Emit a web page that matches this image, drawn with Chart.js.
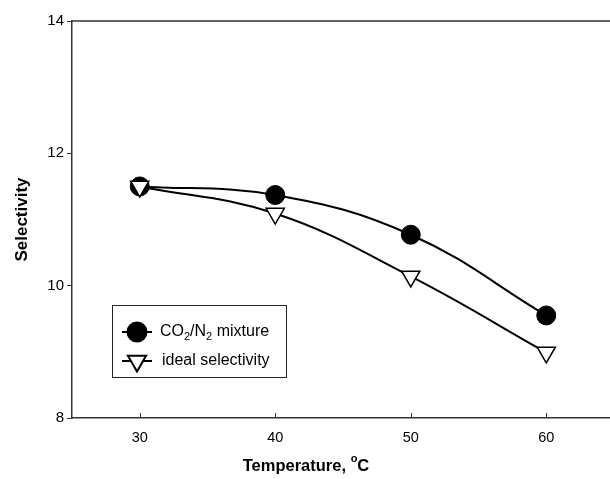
<!DOCTYPE html>
<html>
<head>
<meta charset="utf-8">
<script src="https://cdn.jsdelivr.net/npm/chart.js@4/dist/chart.umd.min.js"></script>
<style>
  html, body { margin: 0; padding: 0; background: #fff; overflow: hidden; }
  #wrap { width: 626px; height: 479px; }
</style>
</head>
<body>
<div id="wrap"><canvas id="selChart" width="626" height="479"></canvas></div>
<script>
// --- data ---
const temperatures = [30, 40, 50, 60];
const mixtureSel = [11.5, 11.37, 10.77, 9.55];
const idealSel = [11.5, 11.09, 10.14, 8.99];
const xTicks = [30, 40, 50, 60];
const yTicks = [8, 10, 12, 14];

const FONT = "'Liberation Sans', Arial, sans-serif";
const INK = '#000';

function pts(ys) {
  return temperatures.map((t, i) => ({ x: t, y: ys[i] }));
}

// top frame line, inward x ticks and the x title (with superscript o)
const framePlugin = {
  id: 'frame',
  afterDraw(chart) {
    const { ctx, chartArea } = chart;
    const xs = chart.scales.x;
    ctx.save();
    ctx.strokeStyle = '#333';
    ctx.lineWidth = 1.5;
    ctx.beginPath();
    ctx.moveTo(chartArea.left, chartArea.top);
    ctx.lineTo(chartArea.right + 2, chartArea.top);
    ctx.stroke();
    ctx.lineWidth = 1;
    ctx.beginPath();
    xTicks.forEach(v => {
      const px = Math.round(xs.getPixelForValue(v)) + 0.5;
      ctx.moveTo(px, chartArea.bottom);
      ctx.lineTo(px, chartArea.bottom - 5);
    });
    ctx.stroke();

    // x title
    const big = 'bold 16.5px ' + FONT, small = 'bold 11px ' + FONT;
    const parts = [['Temperature, ', big, 0], ['o', small, -7], ['C', big, 0]];
    ctx.fillStyle = INK;
    ctx.textBaseline = 'middle';
    ctx.textAlign = 'left';
    let total = 0;
    parts.forEach(([t, f]) => { ctx.font = f; total += ctx.measureText(t).width; });
    let x = 306 - total / 2;
    parts.forEach(([t, f, dy]) => {
      ctx.font = f;
      ctx.fillText(t, x, 466 + dy);
      x += ctx.measureText(t).width;
    });
    ctx.restore();
  }
};

// legend box inside the plot, with subscripts
const legendPlugin = {
  id: 'boxLegend',
  afterDraw(chart) {
    const { ctx } = chart;
    const bx = 112, by = 305, bw = 174, bh = 72;
    ctx.save();
    ctx.fillStyle = '#fff';
    ctx.fillRect(bx, by, bw, bh);
    ctx.strokeStyle = '#222';
    ctx.lineWidth = 1;
    ctx.strokeRect(bx + 0.5, by + 0.5, bw, bh);

    const rows = [
      { y: 332, ds: chart.data.datasets[0] },
      { y: 361, ds: chart.data.datasets[1] }
    ];
    rows.forEach(r => {
      ctx.strokeStyle = INK;
      ctx.lineWidth = 2;
      ctx.beginPath();
      ctx.moveTo(122, r.y);
      ctx.lineTo(152, r.y);
      ctx.stroke();
      ctx.fillStyle = r.ds.pointBackgroundColor;
      ctx.strokeStyle = INK;
      Chart.helpers.drawPoint(ctx, {
        pointStyle: r.ds.pointStyle,
        radius: r.ds.pointRadius,
        rotation: r.ds.pointRotation || 0,
        borderWidth: r.ds.pointBorderWidth
      }, 137, r.y);
    });

    ctx.fillStyle = INK;
    ctx.textBaseline = 'middle';
    ctx.textAlign = 'left';
    const big = '16px ' + FONT, small = '11px ' + FONT;
    let x = 160;
    const parts = [['CO', big, 0], ['2', small, 5], ['/N', big, 0], ['2', small, 5], [' mixture', big, 0]];
    parts.forEach(([t, f, dy]) => {
      ctx.font = f;
      ctx.fillText(t, x, 332 + dy);
      x += ctx.measureText(t).width;
    });
    ctx.font = big;
    ctx.fillText('ideal selectivity', 162, 361);
    ctx.restore();
  }
};

new Chart(document.getElementById('selChart'), {
  type: 'line',
  data: {
    datasets: [
      {
        label: 'CO2/N2 mixture',
        data: pts(mixtureSel),
        borderColor: INK,
        borderWidth: 2,
        tension: 0.4,
        pointStyle: 'circle',
        pointRadius: 9.5,
        pointBackgroundColor: INK,
        pointBorderColor: INK,
        pointBorderWidth: 1,
        order: 1
      },
      {
        label: 'ideal selectivity',
        data: pts(idealSel),
        borderColor: INK,
        borderWidth: 2,
        tension: 0.4,
        pointStyle: 'triangle',
        pointRotation: 180,
        pointRadius: 10.5,
        pointBackgroundColor: '#fff',
        pointBorderColor: INK,
        pointBorderWidth: 1.5,
        order: 0
      }
    ]
  },
  options: {
    responsive: false,
    animation: false,
    layout: { padding: { left: 0, top: 21, right: 0, bottom: 0 } },
    plugins: {
      legend: { display: false },
      tooltip: { enabled: false }
    },
    scales: {
      x: {
        type: 'linear',
        min: 25,
        max: 65,
        afterBuildTicks: s => { s.ticks = xTicks.map(v => ({ value: v })); },
        afterFit: s => { s.height = 61; },
        grid: { drawOnChartArea: false, drawTicks: false },
        border: { color: '#333', width: 1.5 },
        ticks: { color: INK, padding: 11, font: { family: FONT, size: 14.5 } },
        title: { display: false }
      },
      y: {
        min: 8,
        max: 14,
        afterBuildTicks: s => { s.ticks = yTicks.map(v => ({ value: v })); },
        afterFit: s => { s.width = 72; },
        grid: { drawOnChartArea: false, drawTicks: true, tickLength: 5, color: '#333' },
        border: { color: '#333', width: 1.5 },
        ticks: { color: INK, padding: 3, font: { family: FONT, size: 15 } },
        title: {
          display: true,
          text: 'Selectivity',
          color: INK,
          padding: { top: 12, bottom: 0 },
          font: { family: FONT, size: 17, weight: 'bold' }
        }
      }
    }
  },
  plugins: [framePlugin, legendPlugin]
});
</script>
</body>
</html>
